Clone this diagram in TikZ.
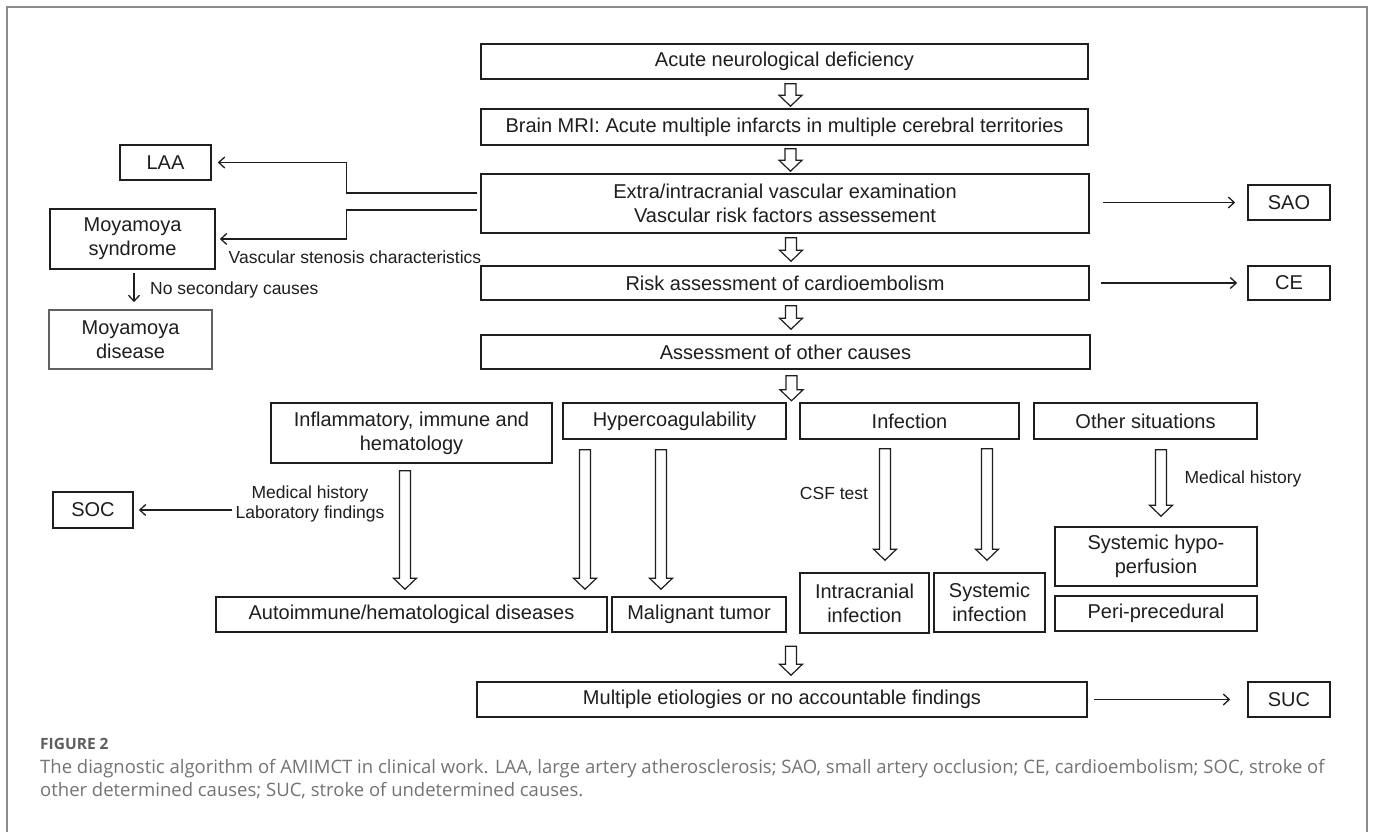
\documentclass[tikz,border=0pt]{standalone}
\usepackage{fontspec}
\setmainfont{Liberation Sans}
\newfontfamily\capfont{Open Sans}
\usetikzlibrary{arrows.meta,calc}
\definecolor{ink}{HTML}{1E1E1E}
\definecolor{framegray}{HTML}{8C8C8C}
\definecolor{capgray}{HTML}{747474}
\definecolor{figgray}{HTML}{5E5E5E}
\tikzset{
  box/.style={draw=ink, line width=1.6pt, text=ink, inner sep=0pt, align=center,
    font=\fontsize{20}{24}\selectfont},
  lbl/.style={text=ink, inner sep=0pt, align=center, font=\fontsize{17.5}{20}\selectfont},
  arr/.style={draw=ink, line width=1.3pt, -{Straight Barb[length=6pt,width=11pt]}},
  harrow/.style={draw=ink, line width=1.2pt, fill=white, line join=miter},
}
% box: [opts]{name}{x1}{y1}{x2}{y2}{text}
\newcommand\bx[7][]{\node[box,#1,minimum width={#5-#3},minimum height={#6-#4}] (#2) at ({(#3+#5)/2},{(#4+#6)/2}) {#7};}
% hollow down arrow from coordinate #1 (top) to #2 (tip)
\newcommand\harr[2]{\draw[harrow] let \p1=#1, \p2=#2 in
  (\x1-5.5pt,\y1) -- (\x1+5.5pt,\y1) -- (\x1+5.5pt,\y2+11pt) -- (\x1+11.5pt,\y2+11pt)
  -- (\x1,\y2) -- (\x1-11.5pt,\y2+11pt) -- (\x1-5.5pt,\y2+11pt) -- cycle;}
\begin{document}
\begin{tikzpicture}[x=1pt,y=-1pt]
\useasboundingbox (0,0) rectangle (1373,832);
\fill[white] (0,0) rectangle (1373,832);
% outer frame
\draw[framegray, line width=2pt] (7,840) -- (7,7) -- (1367,7) -- (1367,840);

% main column
\bx{acute}{481}{44}{1088}{79}{Acute neurological deficiency}
\bx{mri}{481}{109}{1088}{145}{Brain MRI: Acute multiple infarcts in multiple cerebral territories}
\bx{extra}{481}{174}{1089}{233}{Extra/intracranial vascular examination\\Vascular risk factors assessement}
\bx{risk}{481}{266}{1089}{300}{Risk assessment of cardioembolism}
\bx{assess}{481}{335}{1090}{369}{Assessment of other causes}

% side boxes
\bx{laa}{120}{145}{211}{180}{LAA}
\bx{moyas}{50}{209}{215}{269}{Moyamoya\\syndrome}
\bx[draw=ink!70]{moyad}{49}{310}{212}{369}{Moyamoya\\disease}
\bx{sao}{1248}{185}{1330}{220}{SAO}
\bx{ce}{1248}{266}{1330}{300}{CE}

% categories
\bx{infl}{271}{403}{552}{463}{Inflammatory, immune and\\hematology}
\bx{hyper}{563}{403}{786}{439}{Hypercoagulability}
\bx{infec}{800}{403}{1019}{439}{Infection}
\bx{othsit}{1034}{403}{1257}{439}{Other situations}

\bx{soc}{53}{492}{133}{528}{SOC}
\bx{auto}{216}{597}{607}{632}{Autoimmune/hematological diseases}
\bx{malig}{612}{597}{786}{632}{Malignant tumor}
\bx{intra}{800}{573}{929}{633}{Intracranial\\infection}
\bx{sysinf}{934}{573}{1045}{632}{Systemic\\infection}
\bx{hypo}{1055}{527}{1257}{586}{Systemic hypo-\\perfusion}
\bx{peri}{1055}{596}{1257}{631}{Peri-precedural}

\bx{multi}{477}{682}{1087}{717}{Multiple etiologies or no accountable findings}
\bx{suc}{1248}{682}{1330}{717}{SUC}

% labels
\node[lbl] (vsc) at (355,257) {Vascular stenosis characteristics};
\node[lbl, anchor=west] (nsc) at (150,290) {No secondary causes};
\node[lbl] (medlab) at (310,504) {Medical history\\Laboratory findings};
\node[lbl] (csf) at (834,493) {CSF test};
\node[lbl] (medh) at (1243,479) {Medical history};

% hollow arrows, main column
\harr{($(acute.south)+(6,4)$)}{($(mri.north)+(6,-2)$)}
\harr{($(mri.south)+(6,3)$)}{($(extra.north)+(6,-2)$)}
\harr{($(extra.south)+(6,4)$)}{($(risk.north)+(6,-4)$)}
\harr{($(risk.south)+(6,5)$)}{($(assess.north)+(6,-5)$)}
\harr{($(assess.south)+(6,6)$)}{($(assess.south)+(6,31)$)}
\harr{($(multi.north)+(9,-35)$)}{($(multi.north)+(9,-6)$)}

% hollow arrows, lower part
\harr{($(infl.south)+(-6.5,7)$)}{($(infl.south |- auto.north)+(-6.5,-7)$)}
\harr{($(hyper.south)+(-89.5,10)$)}{($(hyper.south |- auto.north)+(-89.5,-7)$)}
\harr{($(hyper.south)+(-13.5,10)$)}{($(hyper.south |- malig.north)+(-13.5,-7)$)}
\harr{($(infec.south)+(-24.5,9)$)}{($(infec.south |- intra.north)+(-24.5,-12)$)}
\harr{($(infec.south)+(77.5,9)$)}{($(infec.south |- intra.north)+(77.5,-12)$)}
\harr{($(othsit.south)+(15.5,10)$)}{($(othsit.south |- hypo.north)+(15.5,-10)$)}

% thin connectors
\draw[arr] ($(extra.west)+(-3,-10.5)$) -- ++(-131,0) |- ($(laa.east)+(6,0)$);
\draw[arr] ($(extra.west)+(-3,6.5)$) -- ++(-131,0) |- ($(moyas.east)+(4,0)$);
\draw[arr, shorten <=3pt, shorten >=7pt] ($(moyas.south)+(1.5,0)$) -- ($(moyas.south |- moyad.north)+(1.5,0)$);
\draw[arr, shorten <=13pt, shorten >=12pt] (extra.east |- sao.west) -- (sao.west);
\draw[arr, shorten <=11pt, shorten >=10pt] (risk.east |- ce.west) -- (ce.west);
\draw[arr, shorten <=6pt, shorten >=17pt] (multi.east |- suc.west) -- (suc.west);
\draw[arr, shorten <=3pt, shorten >=5pt] (medlab.west |- soc.east) -- (soc.east);

% caption
\node[anchor=base west, inner sep=0pt, text=figgray, font=\capfont\bfseries\fontsize{15.5}{18}\selectfont] (fig) at (40,749) {FIGURE 2};
\node[anchor=base west, inner sep=0pt, text=capgray, font=\capfont\fontsize{18.5}{23}\selectfont] (cap1) at (40,773) {The diagnostic algorithm of AMIMCT in clinical work. LAA, large artery atherosclerosis; SAO, small artery occlusion; CE, cardioembolism; SOC, stroke of};
\node[anchor=base west, inner sep=0pt, text=capgray, font=\capfont\fontsize{18.5}{23}\selectfont] (cap2) at (40,796) {other determined causes; SUC, stroke of undetermined causes.};
\end{tikzpicture}
\end{document}
